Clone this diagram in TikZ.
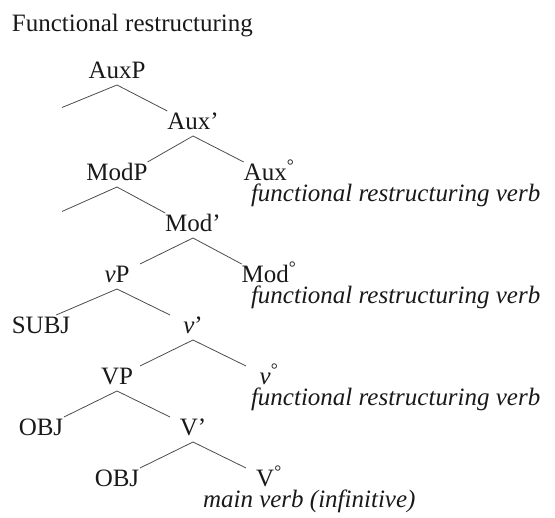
\documentclass[tikz,border=0pt]{standalone}
\usepackage{fontspec}
\setmainfont{Liberation Serif}
\usepackage{tikz}
\usetikzlibrary{positioning,calc}
\tikzstyle{cat}=[inner sep=0pt, outer sep=0pt, minimum width=46pt, text height=19pt, text depth=6pt, font=\fontsize{25}{30}\selectfont, text=black!90]
\tikzstyle{head}=[cat, text depth=2pt, yshift=2pt]
\tikzstyle{gloss}=[cat, minimum width=0pt, text height=16pt, anchor=base west, font=\fontsize{25}{30}\selectfont\itshape]
\tikzstyle{branch}=[draw=black!70, line width=0.8pt]

\begin{document}
\begin{tikzpicture}[node distance=51pt]
        \useasboundingbox (0,0) rectangle (555pt,-518pt);
        \node (title) [cat, minimum width=0pt, anchor=base west] at (12pt,-32pt) {Functional restructuring};

        % AuxP
        \node (AuxP) [cat] at (117pt,-72.5pt) {AuxP};
        \node (Auxbar) [cat, below of=AuxP, xshift=76pt] {Aux'};
        \node (ModP) [cat, below of=Auxbar, xshift=-76pt] {ModP};
        \node (Auxhead) [head, below of=Auxbar, xshift=76pt] {Aux\textsuperscript{°}};
        \node (Auxgloss) [gloss] at ($(Auxhead.base)+(-18pt,-21pt)$) {functional restructuring verb};
        \coordinate (AuxSpec) at ($(AuxP)+(-55pt,-35pt)$);

        % ModP
        \node (Modbar) [cat, below of=ModP, xshift=76pt] {Mod'};
        \node (vP) [cat, below of=Modbar, xshift=-76pt] {{\itshape v}P};
        \node (Modhead) [head, below of=Modbar, xshift=76pt] {Mod\textsuperscript{°}};
        \node (Modgloss) [gloss] at ($(Modhead.base)+(-18pt,-21pt)$) {functional restructuring verb};
        \coordinate (ModSpec) at ($(ModP)+(-55pt,-37pt)$);

        % vP
        \node (SUBJ) [cat, below of=vP, xshift=-76pt] {SUBJ};
        \node (vbar) [cat, below of=vP, xshift=76pt] {{\itshape v}'};
        \node (VP) [cat, below of=vbar, xshift=-76pt] {VP};
        \node (vhead) [head, below of=vbar, xshift=76pt] {{\itshape v}\textsuperscript{°}};
        \node (vgloss) [gloss] at ($(vhead.base)+(-18pt,-21pt)$) {functional restructuring verb};

        % VP
        \node (OBJ) [cat, below of=VP, xshift=-76pt] {OBJ};
        \node (Vbar) [cat, below of=VP, xshift=76pt] {V'};
        \node (OBJb) [cat, below of=Vbar, xshift=-76pt] {OBJ};
        \node (Vhead) [head, below of=Vbar, xshift=76pt] {V\textsuperscript{°}};
        \node (Vgloss) [gloss] at ($(Vhead.base)+(-66pt,-21pt)$) {main verb (infinitive)};

        \draw[branch] (AuxSpec) -- (AuxP.south) -- (Auxbar.north west);
        \draw[branch] (ModP.north east) -- (Auxbar.south) -- (Auxhead.north west);
        \draw[branch] (ModSpec) -- (ModP.south) -- (Modbar.north west);
        \draw[branch] (vP.north east) -- (Modbar.south) -- (Modhead.north west);
        \draw[branch] ($(SUBJ.north east)+(-14pt,0)$) -- (vP.south) -- (vbar.north west);
        \draw[branch] (VP.north east) -- (vbar.south) -- (vhead.north west);
        \draw[branch] (OBJ.north east) -- (VP.south) -- (Vbar.north west);
        \draw[branch] (OBJb.north east) -- (Vbar.south) -- (Vhead.north west);
\end{tikzpicture}
\end{document}
